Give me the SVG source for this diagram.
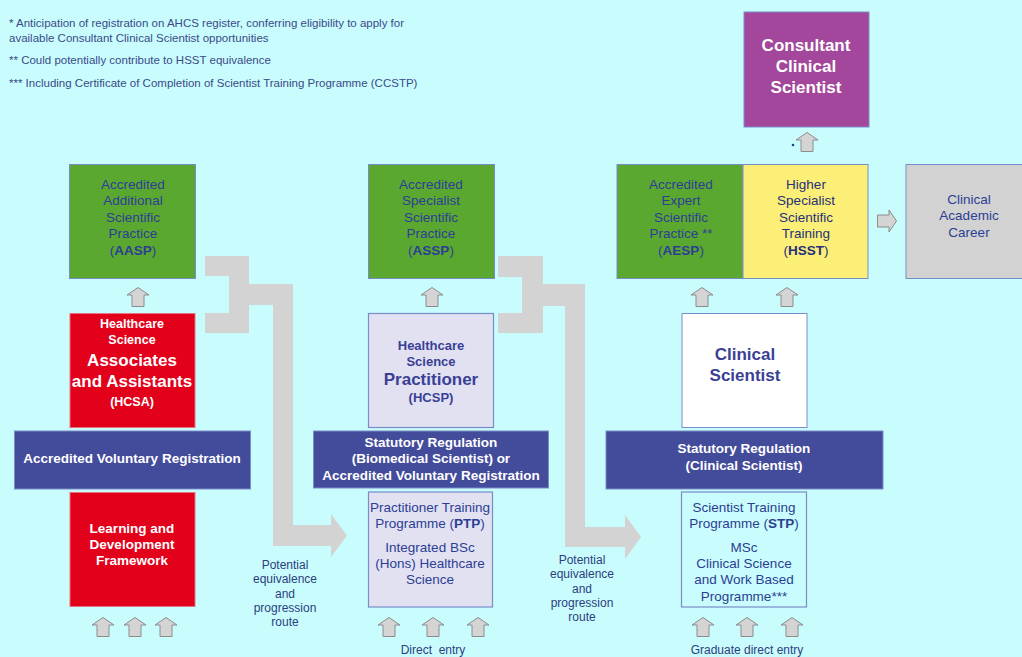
<svg xmlns="http://www.w3.org/2000/svg" width="1022" height="657" viewBox="0 0 1022 657">
<defs>
<style>
text{font-family:"Liberation Sans",Arial,sans-serif;text-anchor:middle}
.note{font-size:11.5px;fill:#3a4a8a;text-anchor:start}
.g{fill:#5ba830;stroke:#7a8cc8;stroke-width:1}
.red{fill:#e2001a;stroke:#e87080;stroke-width:1}
.bar{fill:#434b9b;stroke:#7a8cc8;stroke-width:1}
.lav{fill:#e1e1f1;stroke:#7a8cc8;stroke-width:1.2}
.dk{font-size:13.5px;fill:#2c3e94}
.dkb{font-size:13px;fill:#3a3f96;font-weight:bold}
.wb{font-size:13.5px;fill:#ffffff;font-weight:bold}
.wbig{font-size:17px;fill:#ffffff;font-weight:bold}
.lbl{font-size:12px;fill:#2c3e80}
.conn{fill:#d3d3d3}
.ua{fill:#d4d4d4;stroke:#8c8c8c;stroke-width:1}
</style>
<path id="up" class="ua" d="M0,-9.5 L11,-2 L6,-2 L6,9.5 L-6,9.5 L-6,-2 L-11,-2 Z"/>
</defs>
<rect x="0" y="0" width="1022" height="657" fill="#c9fcfc"/>

<g id="notes">
<text class="note" x="9" y="27">* Anticipation of registration on AHCS register, conferring eligibility to apply for</text>
<text class="note" x="9" y="42">available Consultant Clinical Scientist opportunities</text>
<text class="note" x="9" y="64">** Could potentially contribute to HSST equivalence</text>
<text class="note" x="9" y="87">*** Including Certificate of Completion of Scientist Training Programme (CCSTP)</text>
</g>

<g id="connectors">
<g class="conn">
<rect x="205" y="256" width="44" height="20"/>
<rect x="229" y="256" width="20" height="77"/>
<rect x="205" y="313" width="44" height="20"/>
<rect x="249" y="284" width="44" height="21"/>
<rect x="273" y="284" width="20" height="262"/>
<rect x="273" y="525" width="60" height="21"/>
<polygon points="331,514 347,535.5 331,557"/>
<rect x="498" y="256" width="45" height="21"/>
<rect x="522" y="256" width="21" height="77"/>
<rect x="498" y="313" width="45" height="20"/>
<rect x="543" y="284" width="42" height="22"/>
<rect x="565" y="284" width="20" height="263"/>
<rect x="565" y="527" width="62" height="20"/>
<polygon points="625,515 641,537 625,559"/>
</g>
<use href="#up" x="138" y="297"/>
<use href="#up" x="432" y="297"/>
<use href="#up" x="702" y="297"/>
<use href="#up" x="787" y="297"/>
<use href="#up" x="807" y="142"/>
<circle cx="793" cy="145" r="1.3" fill="#2c3e94"/>
<use href="#up" transform="translate(887,221) rotate(90)"/>
<use href="#up" x="103" y="627"/>
<use href="#up" x="135" y="627"/>
<use href="#up" x="166" y="627"/>
<use href="#up" x="389" y="627"/>
<use href="#up" x="433" y="627"/>
<use href="#up" x="478" y="627"/>
<use href="#up" x="703" y="627"/>
<use href="#up" x="747" y="627"/>
<use href="#up" x="792" y="627"/>
<text class="lbl"><tspan x="285" y="569">Potential</tspan><tspan x="285" y="583">equivalence</tspan><tspan x="285" y="598">and</tspan><tspan x="285" y="612">progression</tspan><tspan x="285" y="626">route</tspan></text>
<text class="lbl"><tspan x="582" y="564">Potential</tspan><tspan x="582" y="578">equivalence</tspan><tspan x="582" y="593">and</tspan><tspan x="582" y="607">progression</tspan><tspan x="582" y="621">route</tspan></text>
<text class="lbl" x="433" y="654" xml:space="preserve">Direct  entry</text>
<text class="lbl" x="747" y="654">Graduate direct entry</text>
</g>

<g id="aasp">
<rect class="g" x="69.5" y="164.5" width="126" height="114"/>
<text class="dk"><tspan x="133" y="189">Accredited</tspan><tspan x="133" y="205">Additional</tspan><tspan x="133" y="222">Scientific</tspan><tspan x="133" y="238">Practice</tspan><tspan x="133" y="255">(<tspan font-weight="bold">AASP</tspan>)</tspan></text>
</g>

<g id="hcsa">
<rect class="red" x="70" y="313.5" width="125" height="114"/>
<text class="wb"><tspan x="132" y="328" style="font-size:12.5px">Healthcare</tspan><tspan x="132" y="344" style="font-size:12.5px">Science</tspan></text>
<text class="wbig"><tspan x="132" y="366">Associates</tspan><tspan x="132" y="387">and Assistants</tspan></text>
<text class="wb" x="132" y="406" style="font-size:12.5px">(HCSA)</text>
</g>

<g id="avr">
<rect class="bar" x="14.5" y="431" width="236" height="58"/>
<text class="wb" x="132" y="463">Accredited Voluntary Registration</text>
</g>

<g id="ldf">
<rect class="red" x="70" y="492.5" width="125" height="114"/>
<text class="wb"><tspan x="132" y="533">Learning and</tspan><tspan x="132" y="549">Development</tspan><tspan x="132" y="565">Framework</tspan></text>
</g>

<g id="assp">
<rect class="g" x="368.5" y="164.5" width="126" height="114"/>
<text class="dk"><tspan x="431" y="189">Accredited</tspan><tspan x="431" y="205">Specialist</tspan><tspan x="431" y="222">Scientific</tspan><tspan x="431" y="238">Practice</tspan><tspan x="431" y="255">(<tspan font-weight="bold">ASSP</tspan>)</tspan></text>
</g>

<g id="hcsp">
<rect class="lav" x="368.5" y="313.5" width="125" height="114"/>
<text class="dkb"><tspan x="431" y="350">Healthcare</tspan><tspan x="431" y="366">Science</tspan></text>
<text class="dkb" x="431" y="385" style="font-size:17px">Practitioner</text>
<text class="dkb" x="431" y="402">(HCSP)</text>
</g>

<g id="srb">
<rect class="bar" x="313.5" y="431" width="235" height="57"/>
<text class="wb"><tspan x="431" y="447">Statutory Regulation</tspan><tspan x="431" y="463">(Biomedical Scientist) or</tspan><tspan x="431" y="480">Accredited Voluntary Registration</tspan></text>
</g>

<g id="ptp">
<rect class="lav" x="368.5" y="492" width="124" height="115"/>
<text class="dk"><tspan x="430" y="512">Practitioner Training</tspan><tspan x="430" y="528">Programme (<tspan font-weight="bold">PTP</tspan>)</tspan><tspan x="430" y="552">Integrated BSc</tspan><tspan x="430" y="568">(Hons) Healthcare</tspan><tspan x="430" y="584">Science</tspan></text>
</g>

<g id="consultant">
<rect x="744" y="12" width="125" height="115" fill="#a2479b" stroke="#7a8cc8" stroke-width="1"/>
<text class="wbig"><tspan x="806" y="51">Consultant</tspan><tspan x="806" y="72">Clinical</tspan><tspan x="806" y="93">Scientist</tspan></text>
</g>

<g id="aesp">
<rect class="g" x="617" y="164.5" width="126" height="114"/>
<text class="dk"><tspan x="681" y="189">Accredited</tspan><tspan x="681" y="205">Expert</tspan><tspan x="681" y="222">Scientific</tspan><tspan x="681" y="238">Practice **</tspan><tspan x="681" y="255">(<tspan font-weight="bold">AESP</tspan>)</tspan></text>
</g>

<g id="hsst">
<rect x="743" y="164.5" width="125" height="114" fill="#fcef78" stroke="#7a8cc8" stroke-width="1"/>
<text class="dk" style="fill:#26307a"><tspan x="806" y="189">Higher</tspan><tspan x="806" y="205">Specialist</tspan><tspan x="806" y="222">Scientific</tspan><tspan x="806" y="238">Training</tspan><tspan x="806" y="255">(<tspan font-weight="bold">HSST</tspan>)</tspan></text>
</g>

<g id="academic">
<rect x="906" y="164.5" width="125" height="114" fill="#d2d2d2" stroke="#7a8cc8" stroke-width="1"/>
<text class="dk"><tspan x="969" y="204">Clinical</tspan><tspan x="969" y="220">Academic</tspan><tspan x="969" y="237">Career</tspan></text>
</g>

<g id="clinsci">
<rect x="682" y="313.5" width="125" height="114" fill="#ffffff" stroke="#7a8cc8" stroke-width="1"/>
<text class="dkb" style="font-size:17px"><tspan x="745" y="360">Clinical</tspan><tspan x="745" y="381">Scientist</tspan></text>
</g>

<g id="src">
<rect class="bar" x="606" y="431" width="277" height="58"/>
<text class="wb"><tspan x="744" y="453">Statutory Regulation</tspan><tspan x="744" y="470">(Clinical Scientist)</tspan></text>
</g>

<g id="stp">
<rect x="681.5" y="492" width="125" height="115" fill="#c9fcfc" stroke="#7a8cc8" stroke-width="1.2"/>
<text class="dk"><tspan x="744" y="512">Scientist Training</tspan><tspan x="744" y="528">Programme (<tspan font-weight="bold">STP</tspan>)</tspan><tspan x="744" y="552">MSc</tspan><tspan x="744" y="568">Clinical Science</tspan><tspan x="744" y="584">and Work Based</tspan><tspan x="744" y="601">Programme***</tspan></text>
</g>
</svg>
